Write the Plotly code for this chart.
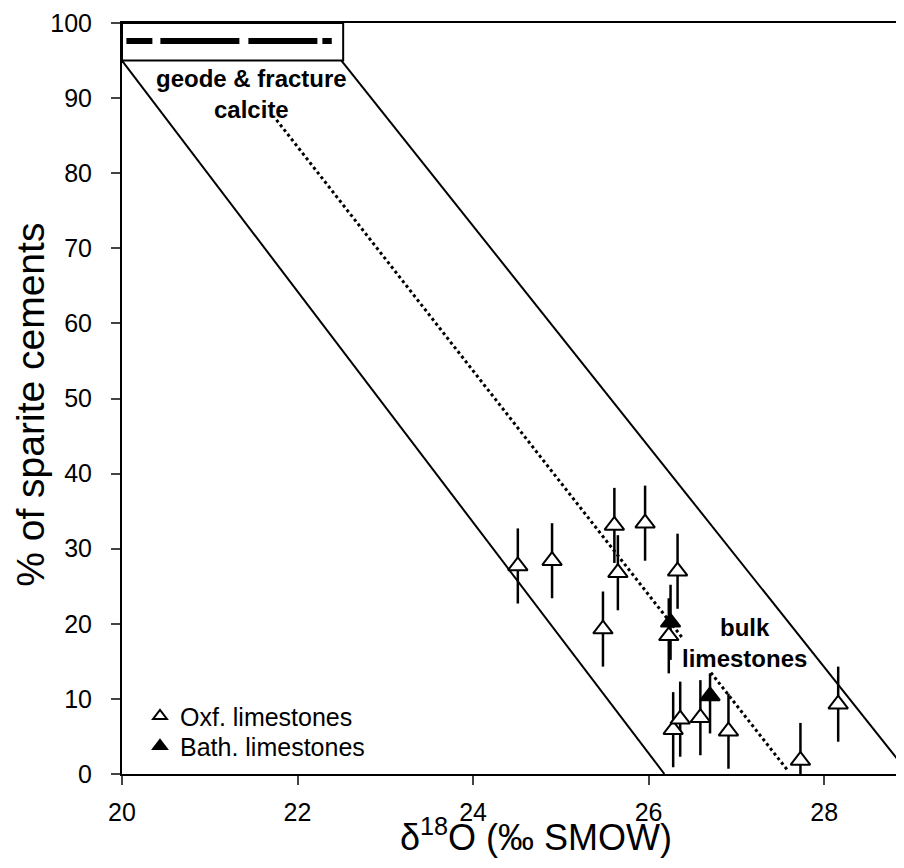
import plotly.graph_objects as go

# Oxfordian limestones (open triangles)
oxf_d18o = [24.51, 24.90, 25.61, 25.65, 25.96, 25.48, 26.33, 26.23, 26.28, 26.36, 26.59, 26.91, 27.73, 28.16]
oxf_sparite = [27.7, 28.4, 33.1, 26.8, 33.4, 19.3, 27.0, 18.4, 5.9, 7.3, 7.5, 5.7, 1.8, 9.3]
oxf_err = [5, 5, 5, 5, 5, 5, 5, 5, 5, 5, 5, 5, 5, 5]

# Bathonian limestones (filled triangles)
bath_d18o = [26.25, 26.70]
bath_sparite = [20.2, 10.4]
bath_err_plus = [5, 3]
bath_err_minus = [5, 5]

# mixing envelope between geode/fracture calcite and bulk limestones
left_line_x = [20.0, 26.18]
left_line_y = [95, 0]
right_line_x = [22.5, 28.97]
right_line_y = [95, 0]
# dotted trend, interrupted by the "bulk limestones" label
trend_upper_x = [21.76, 26.38]
trend_upper_y = [87.1, 18.2]
trend_lower_x = [26.71, 27.59]
trend_lower_y = [13.5, 0.4]

# geode & fracture calcite box
box_x = [20.0, 22.52]
box_y = [95, 100]
geode_x = [20.05, 22.39]
geode_y = [97.6, 97.6]

x_ticks = [20, 22, 24, 26, 28]
y_ticks = [0, 10, 20, 30, 40, 50, 60, 70, 80, 90, 100]

FONT = "Liberation Sans, Arial, sans-serif"

fig = go.Figure()

for xs, ys in [(left_line_x, left_line_y), (right_line_x, right_line_y)]:
    fig.add_trace(go.Scatter(x=xs, y=ys, mode="lines", line={"color": "black", "width": 2},
                             showlegend=False, hoverinfo="skip"))

for xs, ys in [(trend_upper_x, trend_upper_y), (trend_lower_x, trend_lower_y)]:
    fig.add_trace(go.Scatter(x=xs, y=ys, mode="lines",
                             line={"color": "black", "width": 3, "dash": "3px,3px"},
                             showlegend=False, hoverinfo="skip"))

fig.add_trace(go.Scatter(x=geode_x, y=geode_y, mode="lines",
                         line={"color": "black", "width": 6, "dash": "26px,8px,79px,9px,69px,5px"},
                         showlegend=False, hoverinfo="skip"))

fig.add_shape(type="rect", x0=box_x[0], x1=box_x[1], y0=box_y[0], y1=box_y[1],
              line={"color": "black", "width": 2}, fillcolor="rgba(0,0,0,0)", layer="above")

fig.add_trace(go.Scatter(
    x=bath_d18o, y=bath_sparite, mode="markers", name="Bath. limestones", legend="legend2",
    marker={"symbol": "triangle-up", "size": 17, "color": "black", "line": {"color": "black", "width": 2}},
    error_y={"type": "data", "array": bath_err_plus, "arrayminus": bath_err_minus,
             "color": "black", "thickness": 2.5, "width": 0},
))

fig.add_trace(go.Scatter(
    x=oxf_d18o, y=oxf_sparite, mode="markers", name="Oxf. limestones", legend="legend",
    marker={"symbol": "triangle-up", "size": 17, "color": "white", "line": {"color": "black", "width": 2}},
    error_y={"type": "data", "array": oxf_err, "color": "black", "thickness": 2.5, "width": 0},
))

label_font = {"family": FONT, "size": 24, "color": "black", "weight": "bold"}
fig.add_annotation(x=21.48, y=90.6, text="geode & fracture<br>calcite", showarrow=False, font=label_font)
fig.add_annotation(x=27.09, y=17.4, text="bulk<br>limestones", showarrow=False, font=label_font)

fig.add_annotation(xref="paper", yref="paper", x=0.529, y=-0.081, xanchor="center", yanchor="middle",
                   text="δ<sup>18</sup>O (‰ SMOW)", showarrow=False,
                   font={"family": FONT, "size": 36, "color": "black"})
fig.add_annotation(xref="paper", yref="paper", x=-0.117, y=0.491, xanchor="center", yanchor="middle",
                   text="% of sparite cements", textangle=-90, showarrow=False,
                   font={"family": FONT, "size": 39, "color": "black"})

fig.update_xaxes(range=[20, 28.91], tickvals=x_ticks, ticks="outside", ticklen=9, tickwidth=2,
                 showline=True, linewidth=2, linecolor="black", mirror=True, showgrid=False,
                 zeroline=False, ticklabelstandoff=6, tickfont={"family": FONT, "size": 25, "color": "black"})
fig.update_yaxes(range=[0, 100], tickvals=y_ticks, ticks="outside", ticklen=9, tickwidth=2,
                 showline=True, linewidth=2, linecolor="black", showgrid=False,
                 zeroline=False, ticklabelstandoff=14, tickfont={"family": FONT, "size": 25, "color": "black"})

legend_style = {"xanchor": "left", "yanchor": "middle", "bgcolor": "rgba(0,0,0,0)",
                "font": {"family": FONT, "size": 25, "color": "black"}, "itemsizing": "constant"}

# the page body adds an 8px margin, so the figure is 8px smaller than the window
fig.update_layout(
    width=896,
    height=860,
    margin={"l": 114, "r": 0, "t": 15, "b": 94},
    plot_bgcolor="white",
    paper_bgcolor="white",
    showlegend=True,
    legend={**legend_style, "x": 0.023, "y": 0.077},
    legend2={**legend_style, "x": 0.023, "y": 0.037},
)

fig.write_html("out.html")
